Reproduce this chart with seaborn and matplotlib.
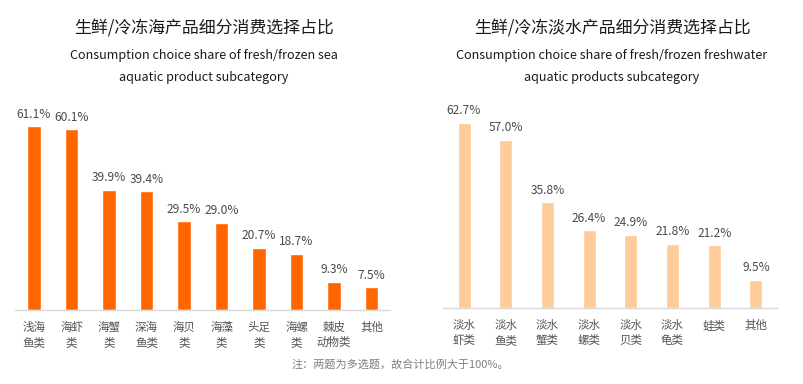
import matplotlib
matplotlib.use("Agg")
import matplotlib.pyplot as plt
import seaborn as sns
import pandas as pd

sns.set_theme(style="white")
plt.rcParams['font.family'] = ['Noto Sans CJK SC', 'DejaVu Sans']

sea_cats = ["浅海\n鱼类", "海虾\n类", "海蟹\n类", "深海\n鱼类", "海贝\n类", "海藻\n类", "头足\n类", "海螺\n类", "棘皮\n动物类", "其他"]
sea_vals = [61.1, 60.1, 39.9, 39.4, 29.5, 29.0, 20.7, 18.7, 9.3, 7.5]

fresh_cats = ["淡水\n虾类", "淡水\n鱼类", "淡水\n蟹类", "淡水\n螺类", "淡水\n贝类", "淡水\n龟类", "蛙类", "其他"]
fresh_vals = [62.7, 57.0, 35.8, 26.4, 24.9, 21.8, 21.2, 9.5]

W, H = 804, 384
fig = plt.figure(figsize=(W/100, H/100), dpi=100)

def px_axes(x0, x1, ybase, ytop):
    return fig.add_axes([x0/W, (H-ybase)/H, (x1-x0)/W, (ybase-ytop)/H])

ax1 = px_axes(15.25, 390.25, 310, 99.3)
ax2 = px_axes(443.2, 776.8, 308, 101.5)

def draw(ax, cats, vals, color, width):
    df = pd.DataFrame({"cat": cats, "val": vals})
    sns.barplot(data=df, x="cat", y="val", order=cats, color=color, width=width,
                ax=ax, saturation=1, errorbar=None)
    ax.set_ylim(0, 70)
    ax.set_xlim(-0.5, len(cats)-0.5)
    ax.set_xlabel("")
    ax.set_ylabel("")
    ax.set_yticks([])
    for s in ["top", "right", "left"]:
        ax.spines[s].set_visible(False)
    ax.spines["bottom"].set_color("#d9d9d9")
    ax.spines["bottom"].set_linewidth(1)
    ax.tick_params(axis="x", length=0, pad=8, labelsize=8.3, labelcolor="#555555")
    for lab in ax.get_xticklabels():
        lab.set_linespacing(1.2)
        lab.set_verticalalignment("top")
    for i, v in enumerate(vals):
        ax.annotate(f"{v:.1f}%", (i, v), xytext=(0, 4), textcoords="offset points",
                    ha="center", va="bottom", fontsize=8.6, color="#4a4a4a")

draw(ax1, sea_cats, sea_vals, "#FF6600", 0.35)
draw(ax2, fresh_cats, fresh_vals, "#FFCC99", 0.31)

tkw = dict(ha="center", va="center", fontsize=12.2, fontweight="medium", color="#1a1a1a")
skw = dict(ha="center", va="center", fontsize=9.1, color="#1a1a1a")

fig.text(204/W, 1-28/H, "生鲜/冷冻海产品细分消费选择占比", **tkw)
fig.text(204/W, 1-55/H, "Consumption choice share of fresh/frozen sea", **skw)
fig.text(204/W, 1-78/H, "aquatic product subcategory", **skw)

fig.text(612/W, 1-28/H, "生鲜/冷冻淡水产品细分消费选择占比", **tkw)
fig.text(612/W, 1-55/H, "Consumption choice share of fresh/frozen freshwater", **skw)
fig.text(612/W, 1-78/H, "aquatic products subcategory", **skw)

fig.text(400/W, 1-364/H, "注：两题为多选题，故合计比例大于100%。", ha="center", va="center",
         fontsize=8, color="#808080")

fig.savefig("out.png", dpi=100, facecolor="white")
